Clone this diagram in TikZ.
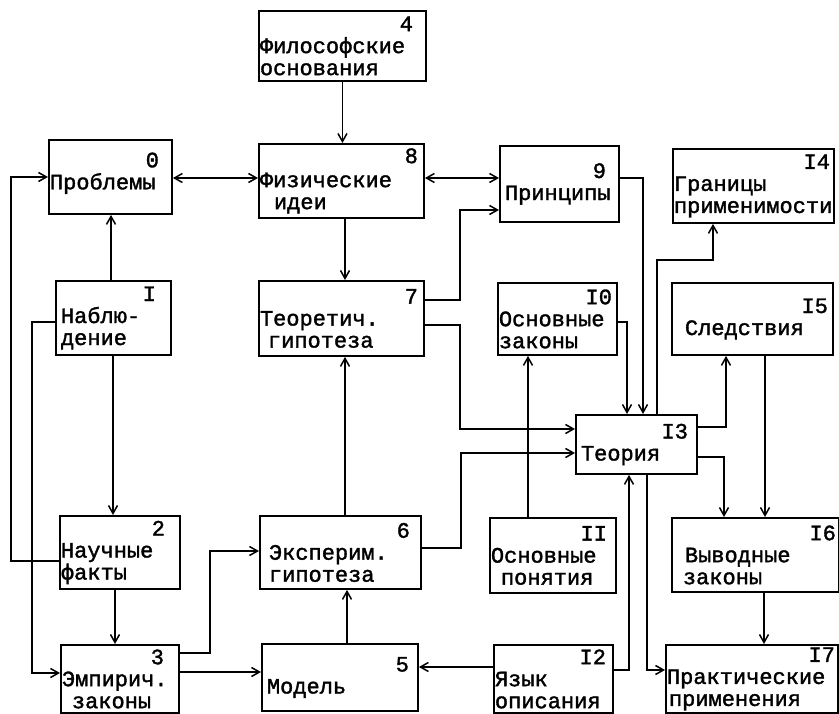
\documentclass[tikz,border=0pt]{standalone}
\usepackage{fontspec}
\newfontfamily\tw{Liberation Mono}[FakeBold=1.6]
\usetikzlibrary{arrows.meta, positioning, calc}

\newcommand\boxno[2][5pt]{\hspace*{\fill}#2\kern#1}

\begin{document}
\begin{tikzpicture}[
  x=1pt, y=-1pt,
  blk/.style  = {rectangle, draw=black, line width=1.9pt, anchor=north west,
                 align=left, inner xsep=1pt, inner ysep=0pt,
                 font=\tw\fontsize{22}{22}\selectfont},
  arr/.style  = {-{Straight Barb[length=8pt, width=9pt]}, line width=1.5pt},
  darr/.style = {{Straight Barb[length=8pt, width=9pt]}-{Straight Barb[length=8pt, width=9pt]},
                 line width=1.5pt},
]
\useasboundingbox (0,0) rectangle (839,714);

%% -- Boxes (row by row) ---------------------------------------------------
\node[blk, text width=165pt, minimum height=70pt] (b4)  at (258,10)  {\boxno[12pt]{4}\\Философские\\основания};

\node[blk, text width=121pt, minimum height=74pt] (b0)  at (48,139)  {\boxno[12pt]{0}\\Проблемы\\[-10pt]\mbox{}};
\node[blk, text width=163pt, minimum height=74pt] (b8)  at (258,143) {\boxno{8}\\[2pt]Физические\\\hspace*{14pt}идеи};
\node[blk, text width=117pt, minimum height=76pt] (b9)  at (499,145) {\boxno[12pt]{9}\\\hspace*{4pt}Принципы};
\node[blk, text width=159pt, minimum height=74pt] (b14) at (672,148) {\boxno[3pt]{I4}\\Границы\\применимости};

\node[blk, text width=113pt, minimum height=74pt] (b1)  at (55,280)  {\boxno[14pt]{I}\\\hspace*{4pt}Наблю-\\\hspace*{4pt}дение};
\node[blk, text width=163pt, minimum height=75pt] (b7)  at (258,280) {\boxno{7}\\Теоретич.\\\hspace*{8pt}гипотеза};
\node[blk, text width=117pt, minimum height=72pt] (b10) at (497,282) {\boxno[4pt]{I0}\\Основные\\законы};
\node[blk, text width=159pt, minimum height=72pt] (b15) at (671,282) {\boxno[4pt]{I5}\\\hspace*{12pt}Следствия};

\node[blk, text width=119pt, minimum height=59pt] (b13) at (575,414) {\boxno[8pt]{I3}\\\hspace*{4pt}Теория};

\node[blk, text width=118pt, minimum height=73pt] (b2)  at (59,515)  {\boxno[14pt]{2}\\Научные\\факты};
\node[blk, text width=159pt, minimum height=73pt] (b6)  at (259,515) {\boxno[10pt]{6}\\\hspace*{8pt}Эксперим.\\\hspace*{8pt}гипотеза};
\node[blk, text width=124pt, minimum height=75pt] (b11) at (489,517) {\boxno[8pt]{II}\\Основные\\\hspace*{10pt}понятия};
\node[blk, text width=165pt, minimum height=74pt] (b16) at (671,517) {\boxno[2pt]{I6}\\\hspace*{12pt}Выводные\\\hspace*{10pt}законы};

\node[blk, text width=116pt, minimum height=68pt] (b3)  at (60,644)  {\boxno[14pt]{3}\\Эмпирич.\\\hspace*{10pt}законы};
\node[blk, text width=154pt, minimum height=67pt] (b5)  at (261,643) {\boxno[8pt]{5}\\\hspace*{4pt}Модель};
\node[blk, text width=117pt, minimum height=68pt] (b12) at (493,644) {\boxno[6pt]{I2}\\Язык\\описания};
\node[blk, text width=170pt, minimum height=68pt] (b17) at (665,644) {\boxno[2pt]{I7}\\Практические\\\hspace*{2pt}применения};

%% -- Vertical flow ----------------------------------------------------------
\draw[arr] (b4.south)        -- (b4.south |- b8.north);
\draw[arr] (b8.south -| 345,0) -- (b7.north -| 345,0);
\draw[arr] (b6.north -| 345,0) -- (b7.south -| 345,0);
\draw[arr] (b5.north -| 347,0) -- (b6.south -| 347,0);
\draw[arr] (b1.north -| 111,0) -- (b0.south -| 111,0);
\draw[arr] (b1.south -| 113,0) -- (b2.north -| 113,0);
\draw[arr] (b2.south -| 115,0) -- (b3.north -| 115,0);
\draw[arr] (b11.north -| 528,0) -- (b10.south -| 528,0);
\draw[arr] (b15.south -| 765,0) -- (b16.north -| 765,0);
\draw[arr] (b16.south -| 764,0) -- (b17.north -| 764,0);

%% -- Two-way links on top row -------------------------------------------------
\draw[darr] (b0.east |- 0,178) -- (b8.west |- 0,178);
\draw[darr] (b8.east |- 0,178) -- (b9.west |- 0,178);

%% -- Left side loops ----------------------------------------------------------
\draw[arr] (b2.west |- 0,561) -- ++(-48,0) |- (b0.west |- 0,177);
\draw[arr] (b1.west |- 0,322) -- ++(-23,0) |- (b3.west |- 0,673);

%% -- From 3 -------------------------------------------------------------------
\draw[arr] (b3.east |- 0,653) -- ++(30,0) |- (b6.west |- 0,551);
\draw[arr] (b3.east |- 0,672) -- (b5.west |- 0,672);

%% -- Into 9 and 13 from the left ----------------------------------------------
\draw[arr] (b7.east |- 0,300) -- ++(35,0) |- (b9.west |- 0,210);
\draw[arr] (b7.east |- 0,325) -- ++(35,0) |- (b13.west |- 0,429);
\draw[arr] (b6.east |- 0,548) -- ++(39,0) |- (b13.west |- 0,453);

%% -- Into 13 from above and below ---------------------------------------------
\draw[arr] (b10.east |- 0,322) -| (b13.north -| 627,0);
\draw[arr] (b9.east |- 0,178)  -| (b13.north -| 643,0);
\draw[arr] (b12.east |- 0,670) -| (b13.south -| 629,0);
\draw[arr] (b12.west |- 0,667) -- (b5.east |- 0,667);

%% -- Out of 13 ----------------------------------------------------------------
\draw[arr] (b13.north -| 657,0) -- ++(0,-154) -| (b14.south -| 713,0);
\draw[arr] (b13.east |- 0,427) -| (b15.south -| 726,0);
\draw[arr] (b13.east |- 0,457) -| (b16.north -| 724,0);
\draw[arr] (b13.south -| 647,0) |- (b17.west |- 0,670);

\end{tikzpicture}
\end{document}
